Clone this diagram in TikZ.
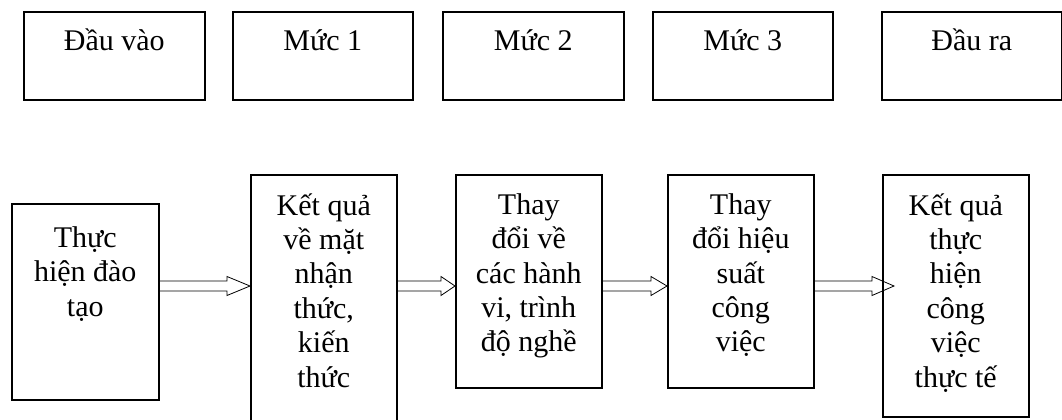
\documentclass[tikz,border=0pt]{standalone}
\usepackage{fontspec}
\setmainfont{Liberation Serif}
\usetikzlibrary{calc}

\tikzset{
    box/.style={draw, line width=0.75pt, anchor=north west, inner sep=0pt},
    boxtext/.style={align=center, anchor=north, inner sep=0pt, font=\fontsize{15}{17.2}\selectfont,
        execute at begin node=\rule{0pt}{14pt}},
    hollow/.style={line width=0.75pt, to path={
        ($(\tikztostart)+(0,-5)$) -- ($(\tikztotarget)+(-#1,-5)$) -- ($(\tikztotarget)+(-#1,-9.5)$)
        -- (\tikztotarget) -- ($(\tikztotarget)+(-#1,9.5)$) -- ($(\tikztotarget)+(-#1,5)$) -- ($(\tikztostart)+(0,5)$)}}
}

\begin{document}
\begin{tikzpicture}[x=0.5pt, y=-0.5pt]
    \clip (0,0) rectangle (1062,419);

    % top row
    \node[box, minimum width=90.5pt, minimum height=44pt] (in) at (23,11) {};
    \node[box, minimum width=90pt, minimum height=44pt] (m1) at (232,11) {};
    \node[box, minimum width=90.5pt, minimum height=44pt] (m2) at (442,11) {};
    \node[box, minimum width=90pt, minimum height=44pt] (m3) at (652,11) {};
    \node[box, minimum width=90pt, minimum height=44pt] (out) at (881,11) {};

    \node[boxtext] (tin) at ([yshift=-5.5pt]in.north) {Đầu vào};
    \node[boxtext] (tm1) at ([yshift=-5.5pt]m1.north) {Mức 1};
    \node[boxtext] (tm2) at ([yshift=-5.5pt]m2.north) {Mức 2};
    \node[boxtext] (tm3) at ([yshift=-5.5pt]m3.north) {Mức 3};
    \node[boxtext] (tout) at ([yshift=-5.5pt]out.north) {Đầu ra};

    % bottom row
    \node[box, minimum width=73.5pt, minimum height=98pt] (a) at (11,203) {};
    \node[box, minimum width=73pt, minimum height=128pt] (b) at (250,174) {};
    \node[box, minimum width=73pt, minimum height=106.5pt] (c) at (455,174) {};
    \node[box, minimum width=73pt, minimum height=106.5pt] (d) at (667,174) {};
    \node[box, minimum width=73pt, minimum height=121pt] (e) at (882,174) {};

    \node[boxtext] (ta) at ([yshift=-11.5pt]a.north) {Thực\\hiện đào\\tạo};
    \node[boxtext] (tb) at ([yshift=-9.5pt]b.north) {Kết quả\\về mặt\\nhận\\thức,\\kiến\\thức};
    \node[boxtext] (tc) at ([yshift=-9.5pt]c.north) {Thay\\đổi về\\các hành\\vi, trình\\độ nghề};
    \node[boxtext] (td) at ([yshift=-9.5pt]d.north) {Thay\\đổi hiệu\\suất\\công\\việc};
    \node[boxtext] (te) at ([yshift=-9.5pt]e.north) {Kết quả\\thực\\hiện\\công\\việc\\thực tế};

    % arrows
    \coordinate (mid) at (0,286);
    \coordinate (tipe) at (894,286);
    \draw (a.east |- mid) to[hollow=23] (b.west |- mid);
    \draw (b.east |- mid) to[hollow=14] (c.west |- mid);
    \draw (c.east |- mid) to[hollow=16] (d.west |- mid);
    \draw (d.east |- mid) to[hollow=22] (tipe);
\end{tikzpicture}
\end{document}
